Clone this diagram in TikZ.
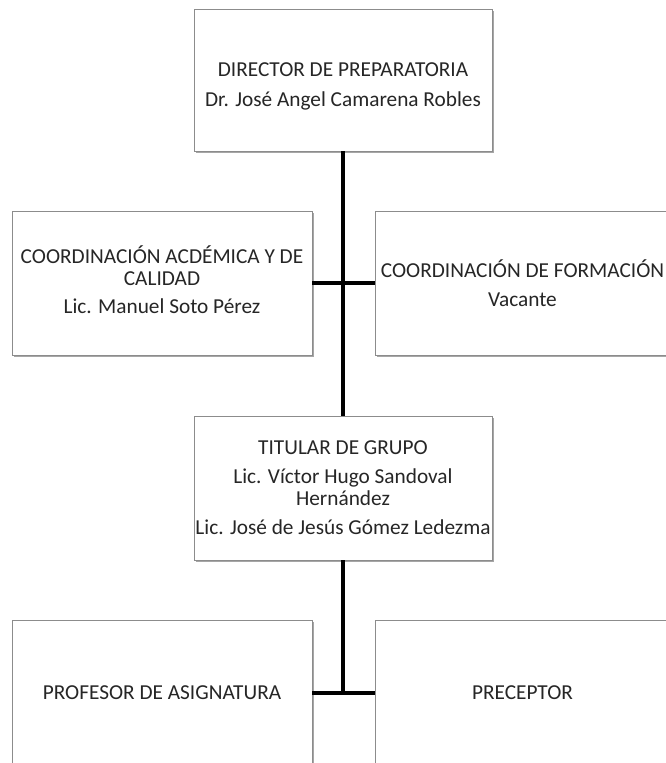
\documentclass[tikz,border=0pt]{standalone}
\usepackage{fontspec}
\setmainfont{Carlito}
\usetikzlibrary{shadows}
\begin{document}
\begin{tikzpicture}[x=1pt,y=-1pt,
  box/.style={draw=black!45, line width=0.8pt, fill=white, rectangle, inner sep=0pt,
    align=center, font=\fontsize{21.3}{22}\selectfont, text=black!85,
    drop shadow={shadow xshift=1.5pt, shadow yshift=-1.8pt, opacity=0.35, fill=black}},
  link/.style={line width=4pt, draw=black}]
\useasboundingbox (0,0) rectangle (665,763);
\fill[white] (0,0) rectangle (665,763);
\node[box, minimum width=298pt, minimum height=142pt] (dir) at (343,80)
  {\rule{0pt}{26pt}DIRECTOR DE PREPARATORIA\\[8pt]Dr. José Angel Camarena Robles};
\node[box, minimum width=300pt, minimum height=144pt] (cal) at (162,283)
  {COORDINACIÓN ACDÉMICA Y DE\\CALIDAD\\[6pt]Lic. Manuel Soto Pérez\rule[-6pt]{0pt}{0pt}};
\node[box, minimum width=295pt, minimum height=144pt] (form) at (522.5,283)
  {COORDINACIÓN DE FORMACIÓN\\[7pt]Vacante};
\node[box, minimum width=298pt, minimum height=144pt] (tit) at (343,488)
  {TITULAR DE GRUPO\\[7pt]Lic. Víctor Hugo Sandoval\\Hernández\\[7pt]Lic. José de Jesús Gómez Ledezma};
\node[box, minimum width=300pt, minimum height=146pt] (prof) at (162,693)
  {PROFESOR DE ASIGNATURA};
\node[box, minimum width=295pt, minimum height=146pt] (prec) at (522.5,693)
  {PRECEPTOR};
\coordinate (j) at (343,692);
\draw[link] (dir.south) -- (tit.north);
\draw[link] (cal.east) -- (form.west);
\draw[link] (tit.south) -- (j);
\draw[link] (prof.east) -- (prec.west);
\end{tikzpicture}
\end{document}
